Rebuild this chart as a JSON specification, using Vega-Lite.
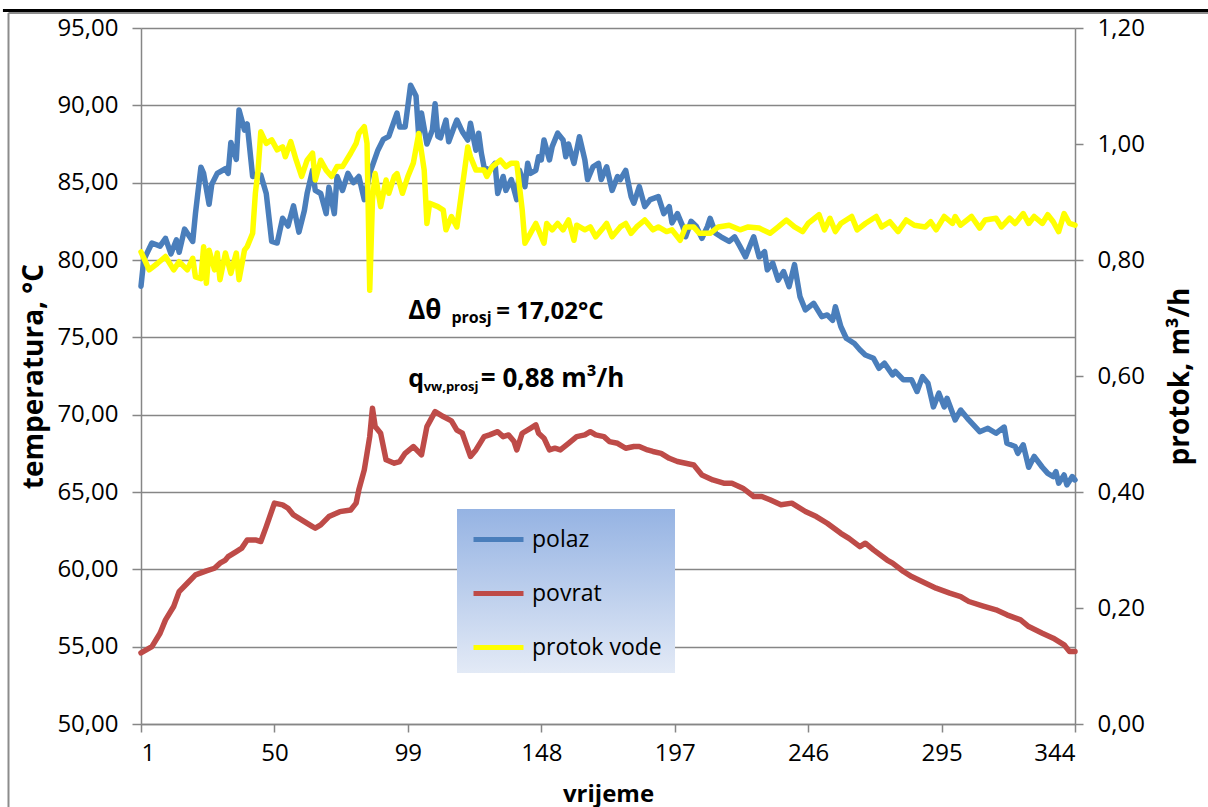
{
  "$schema": "https://vega.github.io/schema/vega-lite/v6.json",
  "width": 934,
  "height": 696,
  "autosize": {"type": "none"},
  "padding": {"left": 141, "top": 28, "right": 133, "bottom": 83},
  "background": "white",
  "config": {
    "locale": {"number": {"decimal": ",", "thousands": ".", "grouping": [3], "currency": ["", " €"]}},
    "view": {"stroke": null},
    "font": "Open Sans",
    "axis": {
      "labelFont": "Open Sans", "labelFontSize": 24, "labelColor": "#000",
      "titleFont": "Open Sans", "titleFontSize": 28, "titleFontWeight": "bold", "titleColor": "#000",
      "domainColor": "#868686", "domainWidth": 1.5,
      "tickColor": "#868686", "tickWidth": 1.5,
      "gridColor": "#868686", "gridWidth": 1.5, "gridOpacity": 1
    }
  },
  "data": {"values": [
    {"t":1,"s":"polaz","v":78.3},{"t":2,"s":"polaz","v":80.0},{"t":5,"s":"polaz","v":81.1},{"t":8,"s":"polaz","v":80.9},{"t":10,"s":"polaz","v":81.4},{"t":12,"s":"polaz","v":80.4},{"t":14,"s":"polaz","v":81.3},{"t":15,"s":"polaz","v":80.5},{"t":17,"s":"polaz","v":82.0},{"t":20,"s":"polaz","v":81.2},{"t":21,"s":"polaz","v":83.0},{"t":23,"s":"polaz","v":86.0},{"t":24,"s":"polaz","v":85.6},{"t":26,"s":"polaz","v":83.6},{"t":27,"s":"polaz","v":84.9},{"t":29,"s":"polaz","v":85.6},{"t":32,"s":"polaz","v":85.9},{"t":33,"s":"polaz","v":85.6},{"t":34,"s":"polaz","v":87.6},{"t":36,"s":"polaz","v":86.5},{"t":37,"s":"polaz","v":89.7},{"t":39,"s":"polaz","v":88.4},{"t":40,"s":"polaz","v":88.8},{"t":42,"s":"polaz","v":85.4},{"t":45,"s":"polaz","v":85.5},{"t":47,"s":"polaz","v":84.3},{"t":49,"s":"polaz","v":81.2},{"t":51,"s":"polaz","v":81.1},{"t":53,"s":"polaz","v":82.7},{"t":55,"s":"polaz","v":82.2},{"t":57,"s":"polaz","v":83.5},{"t":59,"s":"polaz","v":81.8},{"t":61,"s":"polaz","v":83.2},{"t":62,"s":"polaz","v":84.3},{"t":64,"s":"polaz","v":85.8},{"t":65,"s":"polaz","v":84.5},{"t":67,"s":"polaz","v":84.3},{"t":69,"s":"polaz","v":83.0},{"t":70,"s":"polaz","v":84.7},{"t":72,"s":"polaz","v":83.0},{"t":73,"s":"polaz","v":85.4},{"t":75,"s":"polaz","v":84.5},{"t":77,"s":"polaz","v":85.6},{"t":79,"s":"polaz","v":85.0},{"t":81,"s":"polaz","v":85.4},{"t":83,"s":"polaz","v":83.9},{"t":85,"s":"polaz","v":85.6},{"t":88,"s":"polaz","v":87.1},{"t":90,"s":"polaz","v":87.8},{"t":92,"s":"polaz","v":88.0},{"t":95,"s":"polaz","v":89.5},{"t":96,"s":"polaz","v":88.6},{"t":98,"s":"polaz","v":88.6},{"t":100,"s":"polaz","v":91.3},{"t":102,"s":"polaz","v":90.6},{"t":103,"s":"polaz","v":88.0},{"t":104,"s":"polaz","v":89.5},{"t":106,"s":"polaz","v":87.5},{"t":108,"s":"polaz","v":88.4},{"t":109,"s":"polaz","v":90.1},{"t":110,"s":"polaz","v":88.0},{"t":111,"s":"polaz","v":87.9},{"t":113,"s":"polaz","v":89.05},{"t":114,"s":"polaz","v":87.65},{"t":116,"s":"polaz","v":88.6},{"t":117,"s":"polaz","v":89.05},{"t":119,"s":"polaz","v":88.3},{"t":121,"s":"polaz","v":87.76},{"t":122,"s":"polaz","v":88.84},{"t":124,"s":"polaz","v":87.1},{"t":125,"s":"polaz","v":88.2},{"t":126,"s":"polaz","v":86.9},{"t":127,"s":"polaz","v":86.0},{"t":129,"s":"polaz","v":85.8},{"t":131,"s":"polaz","v":86.25},{"t":132,"s":"polaz","v":84.3},{"t":134,"s":"polaz","v":85.4},{"t":135,"s":"polaz","v":84.5},{"t":137,"s":"polaz","v":85.2},{"t":139,"s":"polaz","v":83.9},{"t":140,"s":"polaz","v":85.8},{"t":142,"s":"polaz","v":84.74},{"t":143,"s":"polaz","v":86.25},{"t":144,"s":"polaz","v":85.6},{"t":146,"s":"polaz","v":85.8},{"t":147,"s":"polaz","v":86.68},{"t":148,"s":"polaz","v":86.47},{"t":149,"s":"polaz","v":87.76},{"t":151,"s":"polaz","v":86.47},{"t":152,"s":"polaz","v":87.33},{"t":154,"s":"polaz","v":88.2},{"t":156,"s":"polaz","v":87.76},{"t":157,"s":"polaz","v":86.68},{"t":158,"s":"polaz","v":87.5},{"t":160,"s":"polaz","v":86.25},{"t":161,"s":"polaz","v":87.1},{"t":162,"s":"polaz","v":87.97},{"t":164,"s":"polaz","v":86.47},{"t":165,"s":"polaz","v":85.2},{"t":167,"s":"polaz","v":86.03},{"t":169,"s":"polaz","v":86.25},{"t":170,"s":"polaz","v":85.2},{"t":172,"s":"polaz","v":86.03},{"t":174,"s":"polaz","v":84.5},{"t":176,"s":"polaz","v":85.4},{"t":177,"s":"polaz","v":85.2},{"t":179,"s":"polaz","v":85.8},{"t":181,"s":"polaz","v":84.1},{"t":182,"s":"polaz","v":83.67},{"t":184,"s":"polaz","v":84.74},{"t":186,"s":"polaz","v":83.45},{"t":188,"s":"polaz","v":83.9},{"t":191,"s":"polaz","v":84.1},{"t":193,"s":"polaz","v":83.0},{"t":195,"s":"polaz","v":83.45},{"t":196,"s":"polaz","v":82.4},{"t":198,"s":"polaz","v":83.0},{"t":200,"s":"polaz","v":82.16},{"t":201,"s":"polaz","v":81.5},{"t":203,"s":"polaz","v":82.5},{"t":205,"s":"polaz","v":82.16},{"t":207,"s":"polaz","v":81.4},{"t":209,"s":"polaz","v":82.16},{"t":210,"s":"polaz","v":82.7},{"t":212,"s":"polaz","v":81.73},{"t":214,"s":"polaz","v":81.5},{"t":217,"s":"polaz","v":81.2},{"t":219,"s":"polaz","v":81.5},{"t":221,"s":"polaz","v":80.86},{"t":223,"s":"polaz","v":80.2},{"t":225,"s":"polaz","v":81.08},{"t":226,"s":"polaz","v":81.5},{"t":228,"s":"polaz","v":80.2},{"t":230,"s":"polaz","v":80.54},{"t":231,"s":"polaz","v":79.36},{"t":233,"s":"polaz","v":79.8},{"t":235,"s":"polaz","v":78.7},{"t":237,"s":"polaz","v":79.25},{"t":239,"s":"polaz","v":78.28},{"t":241,"s":"polaz","v":79.7},{"t":243,"s":"polaz","v":77.63},{"t":245,"s":"polaz","v":76.77},{"t":248,"s":"polaz","v":77.2},{"t":251,"s":"polaz","v":76.34},{"t":253,"s":"polaz","v":76.45},{"t":255,"s":"polaz","v":76.1},{"t":256,"s":"polaz","v":76.98},{"t":258,"s":"polaz","v":75.7},{"t":260,"s":"polaz","v":74.94},{"t":263,"s":"polaz","v":74.6},{"t":265,"s":"polaz","v":74.2},{"t":267,"s":"polaz","v":73.86},{"t":270,"s":"polaz","v":73.65},{"t":272,"s":"polaz","v":73.0},{"t":274,"s":"polaz","v":73.33},{"t":277,"s":"polaz","v":72.57},{"t":278,"s":"polaz","v":72.79},{"t":281,"s":"polaz","v":72.25},{"t":284,"s":"polaz","v":72.25},{"t":286,"s":"polaz","v":71.5},{"t":288,"s":"polaz","v":72.46},{"t":290,"s":"polaz","v":72.03},{"t":292,"s":"polaz","v":70.5},{"t":294,"s":"polaz","v":71.39},{"t":296,"s":"polaz","v":70.5},{"t":297,"s":"polaz","v":71.06},{"t":300,"s":"polaz","v":69.66},{"t":302,"s":"polaz","v":70.3},{"t":305,"s":"polaz","v":69.66},{"t":309,"s":"polaz","v":68.9},{"t":312,"s":"polaz","v":69.12},{"t":315,"s":"polaz","v":68.8},{"t":318,"s":"polaz","v":69.2},{"t":319,"s":"polaz","v":68.15},{"t":322,"s":"polaz","v":67.94},{"t":323,"s":"polaz","v":67.5},{"t":325,"s":"polaz","v":68.05},{"t":327,"s":"polaz","v":66.6},{"t":329,"s":"polaz","v":67.3},{"t":332,"s":"polaz","v":66.6},{"t":334,"s":"polaz","v":66.2},{"t":336,"s":"polaz","v":66.0},{"t":337,"s":"polaz","v":66.32},{"t":338,"s":"polaz","v":65.57},{"t":340,"s":"polaz","v":66.1},{"t":341,"s":"polaz","v":65.46},{"t":343,"s":"polaz","v":66.0},{"t":344,"s":"polaz","v":65.78},
    {"t":1,"s":"povrat","v":54.6},{"t":5,"s":"povrat","v":55.0},{"t":8,"s":"povrat","v":55.87},{"t":10,"s":"povrat","v":56.73},{"t":13,"s":"povrat","v":57.6},{"t":15,"s":"povrat","v":58.56},{"t":18,"s":"povrat","v":59.1},{"t":21,"s":"povrat","v":59.64},{"t":25,"s":"povrat","v":59.9},{"t":28,"s":"povrat","v":60.07},{"t":30,"s":"povrat","v":60.4},{"t":32,"s":"povrat","v":60.6},{"t":33,"s":"povrat","v":60.82},{"t":36,"s":"povrat","v":61.15},{"t":38,"s":"povrat","v":61.37},{"t":40,"s":"povrat","v":61.9},{"t":43,"s":"povrat","v":61.9},{"t":45,"s":"povrat","v":61.8},{"t":47,"s":"povrat","v":62.76},{"t":50,"s":"povrat","v":64.28},{"t":53,"s":"povrat","v":64.17},{"t":55,"s":"povrat","v":63.95},{"t":57,"s":"povrat","v":63.52},{"t":61,"s":"povrat","v":63.09},{"t":64,"s":"povrat","v":62.76},{"t":65,"s":"povrat","v":62.66},{"t":67,"s":"povrat","v":62.87},{"t":70,"s":"povrat","v":63.41},{"t":74,"s":"povrat","v":63.73},{"t":78,"s":"povrat","v":63.84},{"t":80,"s":"povrat","v":64.28},{"t":81,"s":"povrat","v":65.14},{"t":83,"s":"povrat","v":66.43},{"t":84,"s":"povrat","v":67.5},{"t":85,"s":"povrat","v":68.58},{"t":86,"s":"povrat","v":70.42},{"t":87,"s":"povrat","v":69.23},{"t":89,"s":"povrat","v":68.8},{"t":91,"s":"povrat","v":67.08},{"t":94,"s":"povrat","v":66.86},{"t":96,"s":"povrat","v":66.97},{"t":98,"s":"povrat","v":67.5},{"t":101,"s":"povrat","v":67.94},{"t":104,"s":"povrat","v":67.4},{"t":106,"s":"povrat","v":69.23},{"t":109,"s":"povrat","v":70.2},{"t":112,"s":"povrat","v":69.88},{"t":115,"s":"povrat","v":69.6},{"t":117,"s":"povrat","v":69.0},{"t":119,"s":"povrat","v":68.8},{"t":122,"s":"povrat","v":67.3},{"t":124,"s":"povrat","v":67.72},{"t":127,"s":"povrat","v":68.58},{"t":129,"s":"povrat","v":68.69},{"t":132,"s":"povrat","v":68.9},{"t":134,"s":"povrat","v":68.58},{"t":136,"s":"povrat","v":68.69},{"t":138,"s":"povrat","v":68.26},{"t":139,"s":"povrat","v":67.72},{"t":141,"s":"povrat","v":68.8},{"t":144,"s":"povrat","v":69.12},{"t":146,"s":"povrat","v":69.34},{"t":147,"s":"povrat","v":68.8},{"t":149,"s":"povrat","v":68.48},{"t":151,"s":"povrat","v":67.72},{"t":153,"s":"povrat","v":67.83},{"t":155,"s":"povrat","v":67.72},{"t":158,"s":"povrat","v":68.15},{"t":161,"s":"povrat","v":68.58},{"t":164,"s":"povrat","v":68.69},{"t":166,"s":"povrat","v":68.9},{"t":168,"s":"povrat","v":68.69},{"t":171,"s":"povrat","v":68.58},{"t":173,"s":"povrat","v":68.26},{"t":176,"s":"povrat","v":68.15},{"t":179,"s":"povrat","v":67.83},{"t":182,"s":"povrat","v":67.94},{"t":184,"s":"povrat","v":67.94},{"t":187,"s":"povrat","v":67.72},{"t":189,"s":"povrat","v":67.62},{"t":192,"s":"povrat","v":67.5},{"t":195,"s":"povrat","v":67.18},{"t":198,"s":"povrat","v":66.97},{"t":201,"s":"povrat","v":66.86},{"t":204,"s":"povrat","v":66.75},{"t":207,"s":"povrat","v":66.1},{"t":211,"s":"povrat","v":65.78},{"t":215,"s":"povrat","v":65.57},{"t":218,"s":"povrat","v":65.57},{"t":222,"s":"povrat","v":65.25},{"t":226,"s":"povrat","v":64.71},{"t":229,"s":"povrat","v":64.71},{"t":232,"s":"povrat","v":64.5},{"t":236,"s":"povrat","v":64.17},{"t":240,"s":"povrat","v":64.28},{"t":245,"s":"povrat","v":63.74},{"t":249,"s":"povrat","v":63.41},{"t":253,"s":"povrat","v":62.98},{"t":258,"s":"povrat","v":62.33},{"t":261,"s":"povrat","v":62.0},{"t":265,"s":"povrat","v":61.47},{"t":267,"s":"povrat","v":61.69},{"t":270,"s":"povrat","v":61.26},{"t":275,"s":"povrat","v":60.6},{"t":277,"s":"povrat","v":60.4},{"t":281,"s":"povrat","v":59.86},{"t":284,"s":"povrat","v":59.53},{"t":288,"s":"povrat","v":59.2},{"t":293,"s":"povrat","v":58.78},{"t":298,"s":"povrat","v":58.46},{"t":302,"s":"povrat","v":58.24},{"t":305,"s":"povrat","v":57.92},{"t":310,"s":"povrat","v":57.64},{"t":315,"s":"povrat","v":57.38},{"t":319,"s":"povrat","v":57.06},{"t":324,"s":"povrat","v":56.73},{"t":327,"s":"povrat","v":56.3},{"t":332,"s":"povrat","v":55.87},{"t":336,"s":"povrat","v":55.55},{"t":340,"s":"povrat","v":55.12},{"t":342,"s":"povrat","v":54.68},{"t":344,"s":"povrat","v":54.68},
    {"t":1,"s":"protok vode","v":0.814},{"t":4,"s":"protok vode","v":0.783},{"t":7,"s":"protok vode","v":0.794},{"t":10,"s":"protok vode","v":0.806},{"t":13,"s":"protok vode","v":0.783},{"t":15,"s":"protok vode","v":0.797},{"t":18,"s":"protok vode","v":0.783},{"t":20,"s":"protok vode","v":0.803},{"t":21,"s":"protok vode","v":0.771},{"t":23,"s":"protok vode","v":0.768},{"t":24,"s":"protok vode","v":0.823},{"t":25,"s":"protok vode","v":0.76},{"t":26,"s":"protok vode","v":0.817},{"t":28,"s":"protok vode","v":0.783},{"t":29,"s":"protok vode","v":0.812},{"t":30,"s":"protok vode","v":0.766},{"t":32,"s":"protok vode","v":0.812},{"t":34,"s":"protok vode","v":0.777},{"t":36,"s":"protok vode","v":0.812},{"t":37,"s":"protok vode","v":0.766},{"t":39,"s":"protok vode","v":0.817},{"t":40,"s":"protok vode","v":0.823},{"t":42,"s":"protok vode","v":0.846},{"t":43,"s":"protok vode","v":0.915},{"t":44,"s":"protok vode","v":0.955},{"t":45,"s":"protok vode","v":1.021},{"t":47,"s":"protok vode","v":1.001},{"t":49,"s":"protok vode","v":1.007},{"t":51,"s":"protok vode","v":0.99},{"t":53,"s":"protok vode","v":0.995},{"t":54,"s":"protok vode","v":0.978},{"t":56,"s":"protok vode","v":1.004},{"t":58,"s":"protok vode","v":0.972},{"t":60,"s":"protok vode","v":0.944},{"t":62,"s":"protok vode","v":0.972},{"t":64,"s":"protok vode","v":0.984},{"t":65,"s":"protok vode","v":0.938},{"t":67,"s":"protok vode","v":0.972},{"t":69,"s":"protok vode","v":0.955},{"t":71,"s":"protok vode","v":0.944},{"t":73,"s":"protok vode","v":0.961},{"t":75,"s":"protok vode","v":0.961},{"t":78,"s":"protok vode","v":0.984},{"t":80,"s":"protok vode","v":1.001},{"t":81,"s":"protok vode","v":1.018},{"t":83,"s":"protok vode","v":1.03},{"t":84,"s":"protok vode","v":1.001},{"t":85,"s":"protok vode","v":0.748},{"t":86,"s":"protok vode","v":0.903},{"t":87,"s":"protok vode","v":0.949},{"t":89,"s":"protok vode","v":0.892},{"t":91,"s":"protok vode","v":0.938},{"t":92,"s":"protok vode","v":0.915},{"t":94,"s":"protok vode","v":0.944},{"t":95,"s":"protok vode","v":0.949},{"t":97,"s":"protok vode","v":0.915},{"t":99,"s":"protok vode","v":0.944},{"t":101,"s":"protok vode","v":0.967},{"t":103,"s":"protok vode","v":1.018},{"t":105,"s":"protok vode","v":0.955},{"t":106,"s":"protok vode","v":0.863},{"t":107,"s":"protok vode","v":0.898},{"t":110,"s":"protok vode","v":0.892},{"t":112,"s":"protok vode","v":0.886},{"t":113,"s":"protok vode","v":0.852},{"t":115,"s":"protok vode","v":0.875},{"t":117,"s":"protok vode","v":0.857},{"t":119,"s":"protok vode","v":0.926},{"t":121,"s":"protok vode","v":0.995},{"t":122,"s":"protok vode","v":0.978},{"t":124,"s":"protok vode","v":0.955},{"t":127,"s":"protok vode","v":0.955},{"t":128,"s":"protok vode","v":0.944},{"t":130,"s":"protok vode","v":0.961},{"t":133,"s":"protok vode","v":0.972},{"t":135,"s":"protok vode","v":0.961},{"t":137,"s":"protok vode","v":0.967},{"t":139,"s":"protok vode","v":0.967},{"t":141,"s":"protok vode","v":0.886},{"t":142,"s":"protok vode","v":0.829},{"t":144,"s":"protok vode","v":0.846},{"t":146,"s":"protok vode","v":0.863},{"t":147,"s":"protok vode","v":0.852},{"t":149,"s":"protok vode","v":0.829},{"t":150,"s":"protok vode","v":0.863},{"t":152,"s":"protok vode","v":0.852},{"t":154,"s":"protok vode","v":0.863},{"t":156,"s":"protok vode","v":0.852},{"t":158,"s":"protok vode","v":0.869},{"t":160,"s":"protok vode","v":0.834},{"t":161,"s":"protok vode","v":0.86},{"t":164,"s":"protok vode","v":0.852},{"t":166,"s":"protok vode","v":0.857},{"t":168,"s":"protok vode","v":0.84},{"t":171,"s":"protok vode","v":0.857},{"t":172,"s":"protok vode","v":0.863},{"t":174,"s":"protok vode","v":0.84},{"t":177,"s":"protok vode","v":0.857},{"t":179,"s":"protok vode","v":0.863},{"t":181,"s":"protok vode","v":0.846},{"t":183,"s":"protok vode","v":0.857},{"t":186,"s":"protok vode","v":0.869},{"t":189,"s":"protok vode","v":0.852},{"t":191,"s":"protok vode","v":0.857},{"t":194,"s":"protok vode","v":0.849},{"t":196,"s":"protok vode","v":0.852},{"t":199,"s":"protok vode","v":0.834},{"t":201,"s":"protok vode","v":0.857},{"t":204,"s":"protok vode","v":0.857},{"t":206,"s":"protok vode","v":0.846},{"t":210,"s":"protok vode","v":0.846},{"t":213,"s":"protok vode","v":0.857},{"t":217,"s":"protok vode","v":0.86},{"t":221,"s":"protok vode","v":0.852},{"t":224,"s":"protok vode","v":0.857},{"t":228,"s":"protok vode","v":0.855},{"t":232,"s":"protok vode","v":0.846},{"t":235,"s":"protok vode","v":0.857},{"t":238,"s":"protok vode","v":0.869},{"t":241,"s":"protok vode","v":0.857},{"t":244,"s":"protok vode","v":0.849},{"t":246,"s":"protok vode","v":0.863},{"t":250,"s":"protok vode","v":0.878},{"t":252,"s":"protok vode","v":0.852},{"t":254,"s":"protok vode","v":0.872},{"t":256,"s":"protok vode","v":0.849},{"t":258,"s":"protok vode","v":0.863},{"t":262,"s":"protok vode","v":0.875},{"t":264,"s":"protok vode","v":0.852},{"t":267,"s":"protok vode","v":0.863},{"t":271,"s":"protok vode","v":0.875},{"t":273,"s":"protok vode","v":0.857},{"t":276,"s":"protok vode","v":0.866},{"t":279,"s":"protok vode","v":0.849},{"t":282,"s":"protok vode","v":0.869},{"t":285,"s":"protok vode","v":0.86},{"t":289,"s":"protok vode","v":0.857},{"t":291,"s":"protok vode","v":0.866},{"t":293,"s":"protok vode","v":0.852},{"t":296,"s":"protok vode","v":0.875},{"t":299,"s":"protok vode","v":0.863},{"t":300,"s":"protok vode","v":0.875},{"t":302,"s":"protok vode","v":0.86},{"t":306,"s":"protok vode","v":0.875},{"t":309,"s":"protok vode","v":0.855},{"t":311,"s":"protok vode","v":0.869},{"t":315,"s":"protok vode","v":0.872},{"t":317,"s":"protok vode","v":0.857},{"t":320,"s":"protok vode","v":0.872},{"t":322,"s":"protok vode","v":0.863},{"t":325,"s":"protok vode","v":0.88},{"t":327,"s":"protok vode","v":0.863},{"t":329,"s":"protok vode","v":0.875},{"t":332,"s":"protok vode","v":0.863},{"t":334,"s":"protok vode","v":0.878},{"t":336,"s":"protok vode","v":0.866},{"t":338,"s":"protok vode","v":0.849},{"t":340,"s":"protok vode","v":0.88},{"t":342,"s":"protok vode","v":0.863},{"t":344,"s":"protok vode","v":0.86}
  ]},
  "layer": [
    {
      "transform": [{"filter": "datum.s !== 'protok vode'"}],
      "mark": {"type": "line", "strokeWidth": 5.5, "strokeJoin": "round", "strokeCap": "round"},
      "encoding": {
        "x": {"field": "t", "type": "quantitative",
          "scale": {"domain": [1, 344], "nice": false, "zero": false},
          "axis": {"title": "vrijeme", "titleFontSize": 24, "values": [1, 50, 99, 148, 197, 246, 295, 344], "format": "d", "grid": false, "tickSize": 8, "labelPadding": 9, "titlePadding": 17}},
        "y": {"field": "v", "type": "quantitative",
          "scale": {"domain": [50, 95], "nice": false, "zero": false},
          "axis": {"orient": "left", "title": "temperatura, °C", "values": [50, 55, 60, 65, 70, 75, 80, 85, 90, 95], "format": ".2f", "grid": true, "tickSize": 9, "labelPadding": 14, "titlePadding": 8}},
        "color": {"field": "s", "type": "nominal",
          "scale": {"domain": ["polaz", "povrat", "protok vode"], "range": ["#4a7ebb", "#be4b48", "#ffff00"]},
          "legend": {
            "title": null, "orient": "none", "legendX": 316, "legendY": 481,
            "symbolType": "M-0.933,0H2.4", "symbolStrokeWidth": 5, "symbolSize": 900,
            "labelFont": "Open Sans", "labelFontSize": 23, "labelColor": "#000", "labelOffset": 27,
            "padding": 13, "rowPadding": 24,
            "encode": {"legend": {"update": {"fill": {"value": {"gradient": "linear", "x1": 0, "y1": 0, "x2": 0, "y2": 1, "stops": [{"offset": 0, "color": "#95b3e3"}, {"offset": 1, "color": "#e3eaf6"}]}}}}}
          }}
      }
    },
    {
      "transform": [{"filter": "datum.s === 'protok vode'"}],
      "mark": {"type": "line", "strokeWidth": 5.5, "strokeJoin": "round", "strokeCap": "round"},
      "encoding": {
        "x": {"field": "t", "type": "quantitative", "scale": {"domain": [1, 344], "nice": false, "zero": false}},
        "y": {"field": "v", "type": "quantitative",
          "scale": {"domain": [0, 1.2], "nice": false, "zero": false},
          "axis": {"orient": "right", "title": "protok, m³/h", "titleAngle": 270, "titleBaseline": "top", "values": [0, 0.2, 0.4, 0.6, 0.8, 1.0, 1.2], "format": ".2f", "grid": false, "tickSize": 8, "labelPadding": 14, "titlePadding": 22}},
        "color": {"field": "s", "type": "nominal"}
      }
    },
    {
      "data": {"values": [{}]},
      "mark": {"type": "text", "text": "Δθ", "font": "Open Sans", "fontSize": 26, "fontWeight": "bold", "align": "left", "baseline": "alphabetic", "color": "#000"},
      "encoding": {
        "x": {"datum": 99.1, "type": "quantitative", "scale": {"domain": [1, 344], "nice": false, "zero": false}},
        "y": {"datum": 76.17, "type": "quantitative", "scale": {"domain": [50, 95], "nice": false, "zero": false}, "axis": null}
      }
    },
    {
      "data": {"values": [{}]},
      "mark": {"type": "text", "text": "prosj", "font": "Open Sans", "fontSize": 16, "fontWeight": "bold", "align": "left", "baseline": "alphabetic", "color": "#000"},
      "encoding": {
        "x": {"datum": 115.0, "type": "quantitative", "scale": {"domain": [1, 344], "nice": false, "zero": false}},
        "y": {"datum": 75.9, "type": "quantitative", "scale": {"domain": [50, 95], "nice": false, "zero": false}, "axis": null}
      }
    },
    {
      "data": {"values": [{}]},
      "mark": {"type": "text", "text": "= 17,02°C", "font": "Open Sans", "fontSize": 24, "fontWeight": "bold", "align": "left", "baseline": "alphabetic", "color": "#000"},
      "encoding": {
        "x": {"datum": 131.5, "type": "quantitative", "scale": {"domain": [1, 344], "nice": false, "zero": false}},
        "y": {"datum": 76.17, "type": "quantitative", "scale": {"domain": [50, 95], "nice": false, "zero": false}, "axis": null}
      }
    },
    {
      "data": {"values": [{}]},
      "mark": {"type": "text", "text": "q", "font": "Open Sans", "fontSize": 25, "fontWeight": "bold", "align": "left", "baseline": "alphabetic", "color": "#000"},
      "encoding": {
        "x": {"datum": 99.1, "type": "quantitative", "scale": {"domain": [1, 344], "nice": false, "zero": false}},
        "y": {"datum": 71.81, "type": "quantitative", "scale": {"domain": [50, 95], "nice": false, "zero": false}, "axis": null}
      }
    },
    {
      "data": {"values": [{}]},
      "mark": {"type": "text", "text": "vw,prosj", "font": "Open Sans", "fontSize": 13, "fontWeight": "bold", "align": "left", "baseline": "alphabetic", "color": "#000"},
      "encoding": {
        "x": {"datum": 104.8, "type": "quantitative", "scale": {"domain": [1, 344], "nice": false, "zero": false}},
        "y": {"datum": 71.53, "type": "quantitative", "scale": {"domain": [50, 95], "nice": false, "zero": false}, "axis": null}
      }
    },
    {
      "data": {"values": [{}]},
      "mark": {"type": "text", "text": "= 0,88 m³/h", "font": "Open Sans", "fontSize": 26, "fontWeight": "bold", "align": "left", "baseline": "alphabetic", "color": "#000"},
      "encoding": {
        "x": {"datum": 125.8, "type": "quantitative", "scale": {"domain": [1, 344], "nice": false, "zero": false}},
        "y": {"datum": 71.81, "type": "quantitative", "scale": {"domain": [50, 95], "nice": false, "zero": false}, "axis": null}
      }
    },
    {
      "data": {"values": [{}]},
      "mark": {"type": "rule", "color": "#000", "strokeWidth": 3},
      "encoding": {
        "x": {"datum": -49.7, "type": "quantitative", "scale": {"domain": [1, 344], "nice": false, "zero": false}},
        "x2": {"datum": 393.6},
        "y": {"datum": 96.13, "type": "quantitative", "scale": {"domain": [50, 95], "nice": false, "zero": false}, "axis": null}
      }
    },
    {
      "data": {"values": [{}]},
      "mark": {"type": "rule", "color": "#8c8c8c", "strokeWidth": 2},
      "encoding": {
        "x": {"datum": -47.66, "type": "quantitative", "scale": {"domain": [1, 344], "nice": false, "zero": false}},
        "x2": {"datum": 393.6},
        "y": {"datum": 95.97, "type": "quantitative", "scale": {"domain": [50, 95], "nice": false, "zero": false}, "axis": null}
      }
    },
    {
      "data": {"values": [{}]},
      "mark": {"type": "rule", "color": "#8c8c8c", "strokeWidth": 2},
      "encoding": {
        "x": {"datum": -47.66, "type": "quantitative", "scale": {"domain": [1, 344], "nice": false, "zero": false}},
        "y": {"datum": 95.97, "type": "quantitative", "scale": {"domain": [50, 95], "nice": false, "zero": false}, "axis": null},
        "y2": {"datum": 44.44}
      }
    }
  ],
  "resolve": {"scale": {"y": "independent"}}
}
